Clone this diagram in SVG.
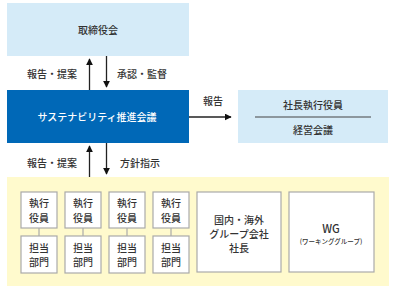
<svg xmlns="http://www.w3.org/2000/svg" width="400" height="292" viewBox="0 0 400 292">
<defs>
<style>
text{font-family:"Noto Sans CJK JP","Noto Sans",sans-serif;fill:#333;text-anchor:middle;dominant-baseline:central;font-size:10px;font-weight:500}
.w{fill:#fff}
.lb{fill:#d5ebf8}
.box{fill:#fff;stroke:#aaa;stroke-width:1.2}
.ln{stroke:#222;stroke-width:1.3;fill:none}
.thin{stroke:#aaa;stroke-width:1.2}
.big{font-size:11px}
.small{font-size:6.5px}
</style>
<marker id="ah" viewBox="0 0 10 10" refX="9" refY="5" markerWidth="7" markerHeight="7" markerUnits="userSpaceOnUse" orient="auto">
<path d="M0,0 L10,5 L0,10 Z" fill="#111"/>
</marker>
</defs>
<rect width="400" height="292" fill="#fff"/>

<g id="board">
<rect class="lb" x="7" y="3" width="182" height="53"/>
<text x="98" y="29">取締役会</text>
</g>

<g id="council">
<rect x="7" y="90" width="182" height="53" fill="#0068b7"/>
<text class="w" x="97" y="116">サステナビリティ推進会議</text>
</g>

<g id="mgmt">
<rect class="lb" x="238" y="90" width="150" height="53"/>
<text x="313" y="104">社長執行役員</text>
<line x1="255" y1="117" x2="371" y2="117" stroke="#444" stroke-width="1.2"/>
<text x="313" y="129">経営会議</text>
</g>

<g id="exec">
<rect x="7" y="177" width="382" height="109" fill="#fffacd"/>
<g id="col1">
<rect class="box" x="21" y="192" width="36" height="36"/>
<text x="39" y="202">執行</text><text x="39" y="217">役員</text>
<line class="thin" x1="39" y1="228" x2="39" y2="236"/>
<rect class="box" x="21" y="236" width="36" height="37"/>
<text x="39" y="247">担当</text><text x="39" y="261">部門</text>
</g>
<g id="col2">
<rect class="box" x="65" y="192" width="36" height="36"/>
<text x="83" y="202">執行</text><text x="83" y="217">役員</text>
<line class="thin" x1="83" y1="228" x2="83" y2="236"/>
<rect class="box" x="65" y="236" width="36" height="37"/>
<text x="83" y="247">担当</text><text x="83" y="261">部門</text>
</g>
<g id="col3">
<rect class="box" x="109" y="192" width="36" height="36"/>
<text x="127" y="202">執行</text><text x="127" y="217">役員</text>
<line class="thin" x1="127" y1="228" x2="127" y2="236"/>
<rect class="box" x="109" y="236" width="36" height="37"/>
<text x="127" y="247">担当</text><text x="127" y="261">部門</text>
</g>
<g id="col4">
<rect class="box" x="153" y="192" width="36" height="36"/>
<text x="171" y="202">執行</text><text x="171" y="217">役員</text>
<line class="thin" x1="171" y1="228" x2="171" y2="236"/>
<rect class="box" x="153" y="236" width="36" height="37"/>
<text x="171" y="247">担当</text><text x="171" y="261">部門</text>
</g>
<g id="group">
<rect class="box" x="197" y="192" width="84" height="80"/>
<text x="239" y="219">国内・海外</text>
<text x="239" y="233">グループ会社</text>
<text x="239" y="247">社長</text>
</g>
<g id="wg">
<rect class="box" x="289" y="192" width="85" height="80"/>
<text class="big" x="331" y="228">WG</text>
<text class="small" x="331" y="241">(ワーキンググループ)</text>
</g>
</g>

<g id="connectors">
<line class="ln" x1="89.5" y1="90" x2="89.5" y2="59" marker-end="url(#ah)"/>
<line class="ln" x1="106.5" y1="56" x2="106.5" y2="87" marker-end="url(#ah)"/>
<line class="ln" x1="89.5" y1="177" x2="89.5" y2="146" marker-end="url(#ah)"/>
<line class="ln" x1="106.5" y1="143" x2="106.5" y2="174" marker-end="url(#ah)"/>
<line class="ln" x1="189" y1="117" x2="231" y2="117" marker-end="url(#ah)"/>
<text x="52" y="73">報告・提案</text>
<text x="142" y="73">承認・監督</text>
<text x="213" y="100">報告</text>
<text x="52" y="162">報告・提案</text>
<text x="140" y="162">方針指示</text>
</g>
</svg>
